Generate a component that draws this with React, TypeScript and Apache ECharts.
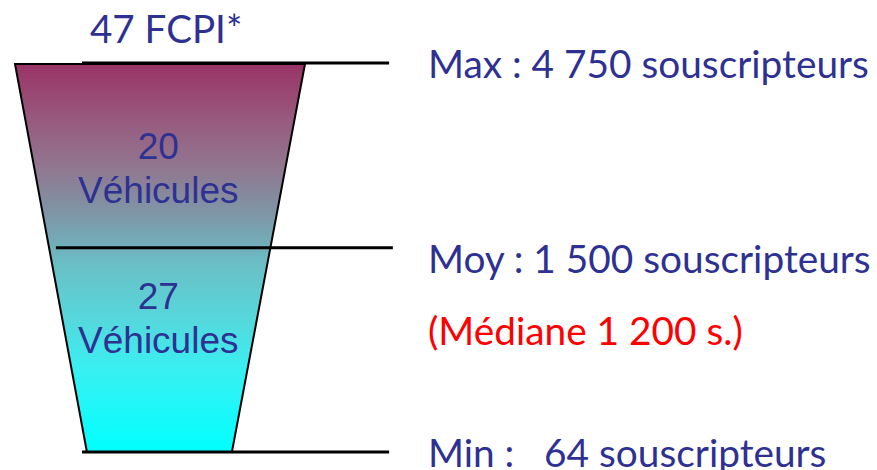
import React, { useEffect, useRef } from 'react';
import * as echarts from 'echarts';

// ---- data ----
const fundTotal = 47;
const fundLabel = 'FCPI*';
const segmentCounts = [20, 27];
const segmentUnit = 'Véhicules';
const levelNames = ['Max', 'Moy', 'Min'];
const levelSeparators = [' : ', ' : ', ' :   '];
const levelSubscribers = ['4 750', '1 500', '64'];
const subscriberUnit = 'souscripteurs';
const medianLabel = '(Médiane 1 200 s.)';

// ---- layout (normalised funnel coordinates) ----
const LEVEL_POS = [0, 0.472, 1];
const BOTTOM_LEFT = 0.248;
const BOTTOM_RIGHT = 0.748;
const LINE_EXTENT = [
  [0.231, 1.29],
  [0.141, 1.303],
  [0.231, 1.29],
];
const LINE_Y_SHIFT = [-1, 0.5, 0];
const LABEL_X = 1.424;
const LABEL_Y_SHIFT = [-1, 10.5, 0];
const MEDIAN_Y = 0.6856;
const SEG_CENTER_X = 0.494;
const SEG_LABEL_Y = [0.269, 0.656];
const SEG_LINE_GAP = 22;
const TITLE_POS = [0.2586, -0.0915];

const NAVY = '#2E3192';
const LATIN = 'Lato, "Open Sans", sans-serif';
const ARIAL = '"Liberation Sans", Arial, sans-serif';
const RIGHT_FONT = `38.8px ${LATIN}`;

export default function App() {
  const ref = useRef<HTMLDivElement>(null);
  useEffect(() => {
    if (!ref.current) return;
    const chart = echarts.init(ref.current, null, { renderer: 'svg' });
    const gradient = new echarts.graphic.LinearGradient(0, 0, 0, 1, [
      { offset: 0, color: '#993366' },
      { offset: 0.144, color: '#985a7e' },
      { offset: 0.273, color: '#907890' },
      { offset: 0.4, color: '#7c9aaa' },
      { offset: 0.53, color: '#68c2c8' },
      { offset: 0.66, color: '#55d8dc' },
      { offset: 0.79, color: '#38f0f2' },
      { offset: 1, color: '#00ffff' },
    ]);
    chart.setOption({
      animation: false,
      grid: { left: 15, top: 64, width: 290, height: 388 },
      xAxis: { type: 'value', min: 0, max: 1, show: false },
      yAxis: { type: 'value', min: 0, max: 1, inverse: true, show: false },
      series: [
        {
          type: 'custom',
          clip: false,
          data: [[0, 0, fundTotal]],
          renderItem: (params: any, api: any) => {
            const tl = api.coord([0, LEVEL_POS[0]]);
            const tr = api.coord([1, LEVEL_POS[0]]);
            const br = api.coord([BOTTOM_RIGHT, LEVEL_POS[2]]);
            const bl = api.coord([BOTTOM_LEFT, LEVEL_POS[2]]);
            const tp = api.coord(TITLE_POS);
            return {
              type: 'group',
              children: [
                {
                  type: 'polygon',
                  shape: { points: [tl, tr, br, bl] },
                  style: { fill: gradient, stroke: '#000', lineWidth: 2, lineJoin: 'miter' },
                },
                {
                  type: 'text',
                  x: tp[0],
                  y: tp[1],
                  style: {
                    text: `${api.value(2)} ${fundLabel}`,
                    fill: NAVY,
                    font: `38.6px ${LATIN}`,
                    align: 'left',
                    verticalAlign: 'middle',
                  },
                },
              ],
            };
          },
        },
        {
          type: 'custom',
          clip: false,
          data: segmentCounts.map((c, i) => [SEG_CENTER_X, SEG_LABEL_Y[i], c]),
          renderItem: (params: any, api: any) => {
            const p = api.coord([api.value(0), api.value(1)]);
            return {
              type: 'group',
              children: [
                {
                  type: 'text',
                  x: p[0],
                  y: p[1] - SEG_LINE_GAP,
                  style: {
                    text: String(api.value(2)),
                    fill: NAVY,
                    font: `37px ${ARIAL}`,
                    align: 'center',
                    verticalAlign: 'middle',
                  },
                },
                {
                  type: 'text',
                  x: p[0],
                  y: p[1] + SEG_LINE_GAP,
                  style: {
                    text: segmentUnit,
                    fill: NAVY,
                    font: `37px ${ARIAL}`,
                    align: 'center',
                    verticalAlign: 'middle',
                  },
                },
              ],
            };
          },
        },
        {
          type: 'custom',
          clip: false,
          data: levelNames.map((_, i) => [LINE_EXTENT[i][0], LEVEL_POS[i], i]),
          renderItem: (params: any, api: any) => {
            const i = params.dataIndex;
            const a = api.coord([LINE_EXTENT[i][0], LEVEL_POS[i]]);
            const b = api.coord([LINE_EXTENT[i][1], LEVEL_POS[i]]);
            const l = api.coord([LABEL_X, LEVEL_POS[i]]);
            const y = a[1] + LINE_Y_SHIFT[i];
            return {
              type: 'group',
              children: [
                {
                  type: 'line',
                  shape: { x1: a[0], y1: y, x2: b[0], y2: y },
                  style: { stroke: '#000', lineWidth: 3 },
                },
                {
                  type: 'text',
                  x: l[0],
                  y: l[1] + LABEL_Y_SHIFT[i],
                  style: {
                    text: `${levelNames[i]}${levelSeparators[i]}${levelSubscribers[i]} ${subscriberUnit}`,
                    fill: NAVY,
                    font: RIGHT_FONT,
                    align: 'left',
                    verticalAlign: 'middle',
                  },
                },
              ],
            };
          },
        },
        {
          type: 'custom',
          clip: false,
          data: [[LABEL_X, MEDIAN_Y]],
          renderItem: (params: any, api: any) => {
            const p = api.coord([api.value(0), api.value(1)]);
            return {
              type: 'text',
              x: p[0],
              y: p[1],
              style: {
                text: medianLabel,
                fill: '#FF0000',
                font: RIGHT_FONT,
                align: 'left',
                verticalAlign: 'middle',
              },
            };
          },
        },
      ],
    });
    return () => chart.dispose();
  }, []);
  return (
    <div
      ref={ref}
      style={{ position: 'fixed', left: 0, top: 0, width: 877, height: 470, background: '#fff' }}
    />
  );
}
